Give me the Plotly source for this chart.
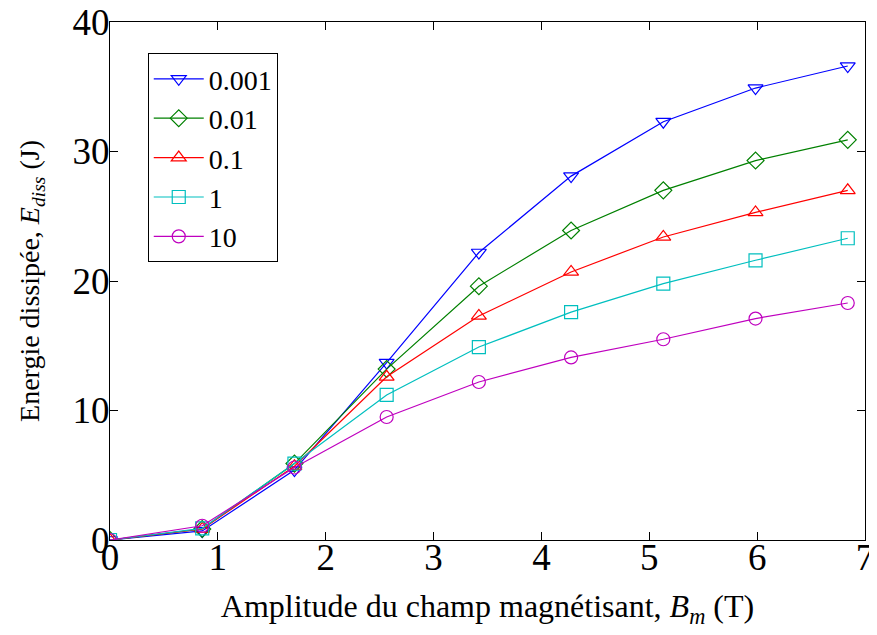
import plotly.graph_objects as go

B = [0, 0.855, 1.71, 2.565, 3.42, 4.275, 5.13, 5.985, 6.84]
series_names = ["0.001", "0.01", "0.1", "1", "10"]
E_0001 = [0, 0.7, 5.4, 13.7, 22.2, 28.1, 32.3, 34.9, 36.6]
E_001 = [0, 0.85, 5.9, 13.2, 19.6, 23.9, 27.0, 29.3, 30.9]
E_01 = [0, 0.85, 5.7, 12.6, 17.3, 20.7, 23.4, 25.3, 27.0]
E_1 = [0, 0.9, 5.9, 11.2, 14.9, 17.6, 19.8, 21.6, 23.3]
E_10 = [0, 1.1, 5.6, 9.5, 12.2, 14.1, 15.5, 17.1, 18.3]

data = [E_0001, E_001, E_01, E_1, E_10]
colors = ["#0000ff", "#008000", "#ff0000", "#00bfbf", "#bf00bf"]
symbols = ["triangle-down-open", "diamond-open", "triangle-up-open", "square-open", "circle-open"]

SERIF = "Liberation Serif, Times New Roman, serif"

fig = go.Figure()
for name, y, c, s in zip(series_names, data, colors, symbols):
    fig.add_trace(go.Scatter(
        x=B, y=y, name=name, mode="lines+markers",
        line=dict(color=c, width=1.2),
        marker=dict(symbol=s, size=13, color=c, line=dict(width=1.2, color=c)),
    ))

axis_common = dict(
    showgrid=False, zeroline=False, showline=True, linecolor="black", linewidth=1.2,
    mirror="ticks", ticks="inside", ticklen=8, tickcolor="black", automargin=False,
    ticklabeloverflow="allow",
    tickfont=dict(family=SERIF, size=37, color="black"),
)
fig.update_layout(
    width=869, height=627,
    margin=dict(l=102, r=12, t=14, b=95),
    paper_bgcolor="white", plot_bgcolor="white",
    font=dict(family=SERIF, color="black"),
    xaxis=dict(range=[0, 7], dtick=1, ticklabelstandoff=-16, **axis_common,
               title=dict(text="Amplitude du champ magnétisant, <i>B</i><sub><i>m</i></sub> (T)",
                          font=dict(family=SERIF, size=32), standoff=18)),
    yaxis=dict(range=[0, 40], dtick=10, ticklabelstandoff=-8, **axis_common,
               title=dict(text="Energie dissipée, <i>E</i><sub><i>diss</i></sub> (J)",
                          font=dict(family=SERIF, size=28), standoff=24)),
    legend=dict(x=0.05, y=0.94, xanchor="left", yanchor="top",
                bordercolor="black", borderwidth=1, bgcolor="white",
                font=dict(family=SERIF, size=28, color="black"),
                itemwidth=50, tracegroupgap=0),
    showlegend=True,
)

fig.write_html("out.html")
